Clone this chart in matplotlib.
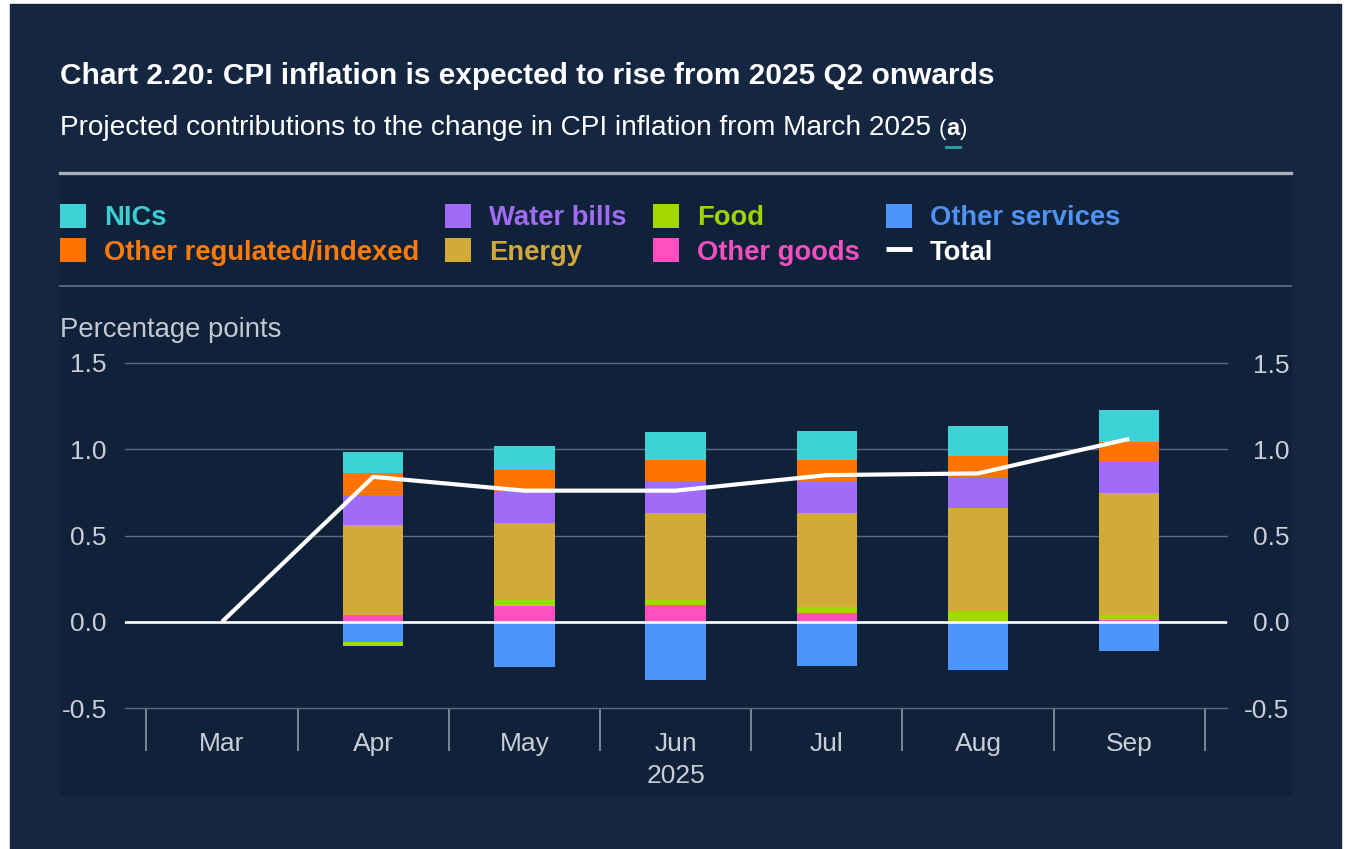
import numpy as np
import matplotlib
matplotlib.use("Agg")
import matplotlib.pyplot as plt
from matplotlib.patches import Rectangle, Patch
from matplotlib.lines import Line2D
from matplotlib.transforms import blended_transform_factory
from matplotlib.ticker import FormatStrFormatter

plt.rcParams["font.family"] = ["Liberation Sans", "DejaVu Sans"]
plt.rcParams["axes.unicode_minus"] = False

# ---- data (percentage points, change since March 2025) ----
months = ["Mar", "Apr", "May", "Jun", "Jul", "Aug", "Sep"]
nics = [0.0, 0.122, 0.141, 0.162, 0.172, 0.176, 0.184]
other_regulated = [0.0, 0.124, 0.123, 0.121, 0.121, 0.123, 0.119]
water_bills = [0.0, 0.179, 0.180, 0.182, 0.182, 0.180, 0.180]
energy = [0.0, 0.519, 0.449, 0.507, 0.548, 0.593, 0.706]
food = [0.0, -0.025, 0.037, 0.029, 0.037, 0.065, 0.029]
other_goods = [0.0, 0.039, 0.089, 0.097, 0.048, 0.0, 0.010]
other_services = [0.0, -0.118, -0.262, -0.340, -0.259, -0.278, -0.172]
total = [0.0, 0.84, 0.76, 0.76, 0.85, 0.86, 1.06]

series_names = ["NICs", "Other regulated/indexed", "Water bills", "Energy",
                "Food", "Other goods", "Other services"]
series_values = [nics, other_regulated, water_bills, energy,
                 food, other_goods, other_services]
series_colors = ["#3dd3d6", "#ff7300", "#a06bf6", "#d2aa3a",
                 "#a2d800", "#ff4fc1", "#4d95fd"]
text_colors = ["#3ccfd2", "#ff7a0a", "#a06cf2", "#d1a93a",
               "#a0d400", "#f44fc0", "#4f92f2"]

# ---- figure and background panels ----
W, H = 1345, 849
fig = plt.figure(figsize=(W / 100, H / 100), dpi=100, facecolor="white")


def fx(px):
    return px / W


def fy(py):
    return 1 - py / H


outer = "#142640"
inner = "#10213a"
fig.patches.append(Rectangle((fx(10), fy(849)), (1341 - 10) / W, (849 - 4) / H,
                             transform=fig.transFigure, color=outer, zorder=-10))
fig.patches.append(Rectangle((fx(60), fy(795)), (1291 - 60) / W, (795 - 175) / H,
                             transform=fig.transFigure, color=inner, zorder=-9))

# separators
fig.add_artist(Line2D([fx(60), fx(1291)], [fy(173), fy(173)], color="#a9b1bb",
                      lw=2.4, transform=fig.transFigure))
fig.add_artist(Line2D([fx(60), fx(1291)], [fy(286), fy(286)], color="#55667b",
                      lw=1.4, transform=fig.transFigure))

# titles
fig.text(fx(60), fy(84), "Chart 2.20: CPI inflation is expected to rise from 2025 Q2 onwards",
         color="white", fontsize=21.5, fontweight="bold", va="baseline", ha="left")
sub = fig.text(fx(60), fy(135), "Projected contributions to the change in CPI inflation from March 2025 ",
               color="white", fontsize=20.2, va="baseline", ha="left")
fig.canvas.draw()
r = fig.canvas.get_renderer()
bb = sub.get_window_extent(r)
t1 = fig.text(bb.x1 / W, fy(135), "(", color="white", fontsize=16, va="baseline", ha="left")
bb1 = t1.get_window_extent(r)
t2 = fig.text(bb1.x1 / W, fy(135), "a", color="white", fontsize=17, fontweight="bold",
              va="baseline", ha="left")
bb2 = t2.get_window_extent(r)
fig.text(bb2.x1 / W, fy(135), ")", color="white", fontsize=16, va="baseline", ha="left")
fig.add_artist(Line2D([bb2.x0 / W, bb2.x1 / W], [fy(146.5), fy(146.5)], color="#2aa6a6",
                      lw=2, transform=fig.transFigure))

fig.text(fx(60), fy(330), "Percentage points", color="#c3c9d1", fontsize=19.8,
         va="center", ha="left")

# ---- chart axes ----
ax = fig.add_axes([fx(125), fy(708), (1227 - 125) / W, (708 - 363) / H])
ax.set_facecolor("none")
x = np.arange(len(months))

# stacking order from zero outward, positives and negatives separately
stack_order = [6, 5, 4, 3, 2, 1, 0]
pos_base = np.zeros(len(months))
neg_base = np.zeros(len(months))
for i in stack_order:
    v = np.array(series_values[i])
    bottom = np.where(v >= 0, pos_base, neg_base)
    ax.bar(x, v, width=0.4, bottom=bottom, color=series_colors[i], zorder=2,
           linewidth=0)
    pos_base = pos_base + np.where(v > 0, v, 0)
    neg_base = neg_base + np.where(v < 0, v, 0)

ax.axhline(0, color="white", lw=1.9, zorder=3)
ax.plot(x, total, color="white", lw=3.0, zorder=4, solid_capstyle="butt")

ax.set_xlim(-0.642, 6.647)
ax.set_ylim(-0.5, 1.5)
yt = [-0.5, 0.0, 0.5, 1.0, 1.5]
ax.set_yticks(yt)
ax.yaxis.set_major_formatter(FormatStrFormatter("%.1f"))
ax.yaxis.grid(True, color="#5b6b80", lw=1.0)
ax.set_axisbelow(True)
for gl in ax.get_ygridlines():
    gl.set_clip_on(False)
ax.tick_params(axis="y", length=0, pad=13, labelsize=19, labelcolor="#c9ced6")

ax.set_xticks(x)
ax.set_xticklabels(months)
ax.set_xticks(np.arange(-0.5, len(months), 1.0), minor=True)
ax.tick_params(axis="x", which="major", length=0, pad=17, labelsize=19,
               labelcolor="#c9ced6")
ax.tick_params(axis="x", which="minor", length=31, width=1.4, color="#7b8798",
               direction="out")
for s in ax.spines.values():
    s.set_visible(False)

ax.text(3, fy(776), "2025", transform=blended_transform_factory(ax.transData, fig.transFigure),
        ha="center", va="center", fontsize=19, color="#c9ced6")

ax2 = ax.twinx()
ax2.set_ylim(ax.get_ylim())
ax2.set_yticks(yt)
ax2.yaxis.set_major_formatter(FormatStrFormatter("%.1f"))
ax2.tick_params(axis="y", length=0, pad=45, labelsize=19, labelcolor="#c9ced6")
for lab in ax2.get_yticklabels():
    lab.set_horizontalalignment("right")
for s in ax2.spines.values():
    s.set_visible(False)

# ---- legend ----
handles = [Patch(facecolor=c, edgecolor="none") for c in series_colors]
handles.append(Line2D([], [], color="white", lw=3.5, solid_capstyle="butt"))
labels = series_names + ["Total"]
leg = fig.legend(handles, labels, loc="upper left", bbox_to_anchor=(fx(60), fy(204)),
                 ncol=4, frameon=False, borderpad=0, borderaxespad=0,
                 prop={"weight": "bold", "size": 19.7},
                 handlelength=0.95, handleheight=0.95, handletextpad=0.66,
                 columnspacing=0.95, labelspacing=0.26)
for txt, c in zip(leg.get_texts(), text_colors + ["white"]):
    txt.set_color(c)

fig.savefig("out.png", dpi=100, facecolor=fig.get_facecolor())
